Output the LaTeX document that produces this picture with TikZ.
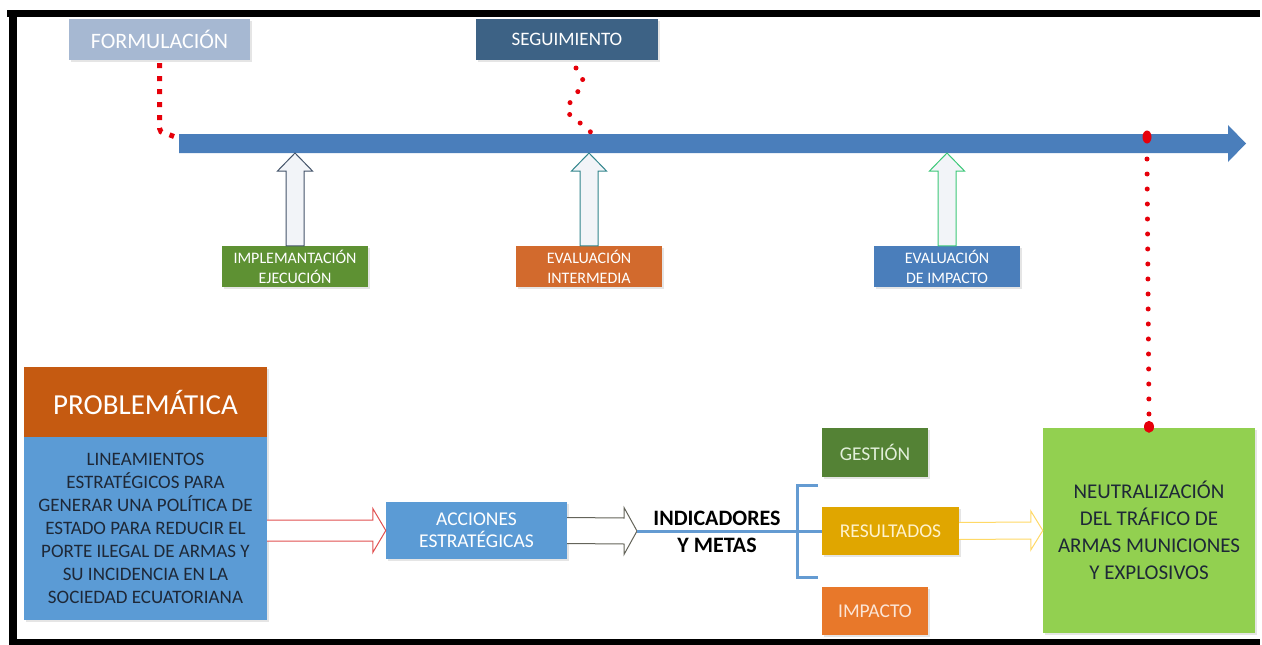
\documentclass[tikz,border=0pt]{standalone}
\usepackage{fontspec}
\setmainfont{Carlito}
\usetikzlibrary{calc, shadows, positioning}

\definecolor{formc}{RGB}{166,184,210}
\definecolor{segc}{RGB}{61,98,133}
\definecolor{tlinec}{RGB}{74,126,187}
\definecolor{impc}{RGB}{94,145,51}
\definecolor{evac}{RGB}{210,106,45}
\definecolor{evic}{RGB}{74,126,187}
\definecolor{probc}{RGB}{197,90,17}
\definecolor{linc}{RGB}{91,155,213}
\definecolor{gesc}{RGB}{84,130,53}
\definecolor{resc}{RGB}{224,166,0}
\definecolor{ipcc}{RGB}{232,120,42}
\definecolor{ntc}{RGB}{146,208,80}
\definecolor{darktext}{RGB}{30,40,55}
\definecolor{impline}{RGB}{68,84,106}
\definecolor{evaline}{RGB}{49,133,140}
\definecolor{eviline}{RGB}{60,200,120}
\definecolor{redline}{RGB}{225,80,80}
\definecolor{grayline}{RGB}{100,100,90}
\definecolor{yelline}{RGB}{255,217,102}
\definecolor{hollowc}{RGB}{242,244,248}
\definecolor{brc}{RGB}{100,155,210}
\definecolor{rdot}{RGB}{230,0,10}

\tikzset{
	box/.style = {inner sep = 0pt, align = center, text = white,
		drop shadow = {shadow xshift = 1.5pt, shadow yshift = -2pt, opacity = 0.2}},
	uparrow/.style = {fill = hollowc, line width = 1pt},
	sidearrow/.style = {fill = white, line width = 1pt},
	reddash/.style = {draw = rdot, line width = 5pt, dash pattern = on 5pt off 8pt},
	reddot/.style = {draw = rdot, line width = 5pt, line cap = round, dash pattern = on 0pt off 15pt},
	brline/.style = {draw = brc, line width = 3pt}
}

\begin{document}
\begin{tikzpicture}[x = 1pt, y = -1pt]
			\fill[white] (0,0) rectangle (1262,645);
			\useasboundingbox (0,0) rectangle (1262,645);

			% frame
			\begin{scope}
				\fill[black] (7,10) rectangle (1260,17);
				\fill[black] (8.5,10) rectangle (16.5,645);
				\fill[black] (8.5,639) rectangle (1260,645);
			\end{scope}

			% phases on top
			\node[box, fill = formc, minimum width = 181, minimum height = 41, font = \fontsize{22}{25}\selectfont] (form) at (159.5,39.5) {FORMULACIÓN};
			\node[box, fill = segc, minimum width = 182, minimum height = 41, font = \fontsize{19}{22}\selectfont] (seg) at (567,39.5) {SEGUIMIENTO};

			\coordinate (tl0) at (179,143.5);
			\coordinate (tl1) at (1246,143.5);
			\fill[tlinec] ($(tl0)+(0,-9.5)$) -- ($(tl1)+(-18,-9.5)$) -- ($(tl1)+(-18,-18.5)$) -- (tl1)
				-- ($(tl1)+(-18,18.5)$) -- ($(tl1)+(-18,9.5)$) -- ($(tl0)+(0,9.5)$) -- cycle;

			\begin{scope}[font = \fontsize{16}{20}\selectfont]
				\node[box, fill = impc, minimum width = 146, minimum height = 41] (imp) at (295,266.5) {IMPLEMANTACIÓN\\EJECUCIÓN};
				\node[box, fill = evac, minimum width = 146, minimum height = 41] (eva) at (589,266.5) {EVALUACIÓN\\INTERMEDIA};
				\node[box, fill = evic, minimum width = 146, minimum height = 41] (evi) at (947,266.5) {EVALUACIÓN\\DE IMPACTO};
			\end{scope}

			\foreach \n/\c in {imp/impline, eva/evaline, evi/eviline}
			{
				\filldraw[uparrow, draw = \c] ($(\n.north)+(-9,0)$) -- ($(\n.north |- tl0)+(-9,27.5)$) -- ($(\n.north |- tl0)+(-17.5,27.5)$)
					-- ($(\n.north |- tl0)+(0,9.5)$) -- ($(\n.north |- tl0)+(17.5,27.5)$) -- ($(\n.north |- tl0)+(9,27.5)$)
					-- ($(\n.north)+(9,0)$) -- cycle;
			}

			% red dotted links
			\coordinate (segend) at (593,134);
			\coordinate (rtop) at (1147,137);
			\draw[reddash] ($(form.south)+(0,3)$) -- ++(0,65) to[out = -90, in = 150] ($(tl0)+(-5,-7)$);
			\draw[reddot, dash pattern = on 0pt off 13.5pt] plot[smooth, tension = 0.7] coordinates {(576,68) (583,81) (575,96) (567,110) (579,122) (segend)};

			% lower part
			\node[box, fill = probc, minimum width = 243, minimum height = 70, font = \fontsize{29}{32}\selectfont] (prob) at (145.5,402) {PROBLEMÁTICA};
			\node[box, fill = linc, minimum width = 243, minimum height = 183, text = darktext, font = \fontsize{19}{23}\selectfont] (lin) at (145.5,528.5)
				{LINEAMIENTOS\\ESTRATÉGICOS PARA\\GENERAR UNA POLÍTICA DE\\ESTADO PARA REDUCIR EL\\PORTE ILEGAL DE ARMAS Y\\SU INCIDENCIA EN LA\\SOCIEDAD ECUATORIANA};
			\node[box, fill = linc, minimum width = 181, minimum height = 57, font = \fontsize{19.5}{22}\selectfont] (acc) at (476.5,530.5) {ACCIONES\\ESTRATÉGICAS};
			\node[align = center, inner sep = 0pt, font = \fontsize{22}{27}\bfseries\selectfont] (ind) at (717,531.5) {INDICADORES\\Y METAS};

			\begin{scope}[font = \fontsize{19.5}{22}\selectfont]
				\node[box, fill = gesc, minimum width = 106, minimum height = 49, text = {rgb,255:red,226;green,239;blue,218}] (ges) at (875,452.5) {GESTIÓN};
				\node[box, fill = resc, minimum width = 137, minimum height = 48, text = {rgb,255:red,255;green,242;blue,204}] (res) at (890.5,531) {RESULTADOS};
				\node[box, fill = ipcc, minimum width = 106, minimum height = 48, text = {rgb,255:red,251;green,229;blue,214}] (ipc) at (875,611) {IMPACTO};
			\end{scope}

			\node[box, fill = ntc, minimum width = 212, minimum height = 205, text = darktext, font = \fontsize{21}{27}\selectfont] (nt) at (1149,530.5)
				{NEUTRALIZACIÓN\\DEL TRÁFICO DE\\ARMAS MUNICIONES\\Y EXPLOSIVOS};

			% hollow arrows
			\coordinate (r0) at (lin.east |- acc.west);
			\filldraw[sidearrow, draw = redline] ($(r0)+(0,-10.5)$) -- ($(acc.west)+(-13,-10.5)$) -- ($(acc.west)+(-13,-22)$) -- (acc.west)
				-- ($(acc.west)+(-13,22)$) -- ($(acc.west)+(-13,10.5)$) -- ($(r0)+(0,10.5)$);

			\coordinate (tip) at (637,531);
			\filldraw[sidearrow, draw = grayline] ($(acc.east)+(0,-13)$) -- ($(tip)+(-13,-13)$) -- ($(tip)+(-13,-23.5)$) -- (tip)
				-- ($(tip)+(-13,23.5)$) -- ($(tip)+(-13,13)$) -- ($(acc.east)+(0,13)$);

			\filldraw[sidearrow, draw = yelline] ($(res.east)+(0,-8.5)$) -- ($(nt.west)+(-12,-8.5)$) -- ($(nt.west)+(-12,-19.5)$) -- (nt.west)
				-- ($(nt.west)+(-12,19.5)$) -- ($(nt.west)+(-12,8.5)$) -- ($(res.east)+(0,8.5)$);

			% bracket
			\coordinate (brk) at (797,531);
			\draw[brline] (tip) -- (res.west);
			\draw[brline] ($(brk)+(21,-46)$) -- ($(brk)+(0,-46)$) -- ($(brk)+(0,46)$) -- ($(brk)+(21,46)$);

			% right red dots
			\draw[reddot] ($(rtop)+(0,22)$) -- ($(nt.north)+(0,-12)$);
			\fill[rdot] (rtop) ellipse [x radius = 4.5, y radius = 6.5];
			\fill[rdot] ($(nt.north)+(0,-1)$) ellipse [x radius = 5, y radius = 6];
		\end{tikzpicture}
\end{document}
